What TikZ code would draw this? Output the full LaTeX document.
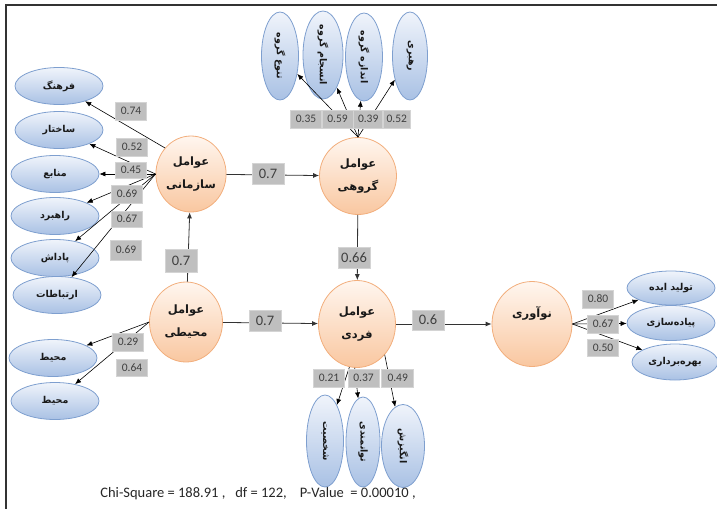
\documentclass[tikz,border=0pt]{standalone}
\usepackage{fontspec}
\setmainfont{Carlito}
\newfontfamily\fafont[Script=Arabic]{DejaVu Sans}
\TeXXeTstate=1
\usepackage{xcolor}
\usetikzlibrary{shapes.geometric,positioning,arrows.meta}
\definecolor{ringc}{HTML}{F2AE7C}
\definecolor{peachtop}{HTML}{FFF6EF}
\definecolor{peachbot}{HTML}{F9C7A0}
\definecolor{bluec}{HTML}{7E9FCF}
\definecolor{bluetop}{HTML}{F0F4FB}
\definecolor{bluebot}{HTML}{A9C1E4}
\definecolor{boxc}{HTML}{BFBFBF}
\definecolor{boxline}{HTML}{D4D4D4}
\newcommand\rl[1]{\beginR#1\endR}

\begin{document}
\begin{tikzpicture}[x=1pt,y=-1pt,
    factor/.style={ellipse,draw=ringc,line width=0.8pt,top color=peachtop,bottom color=peachbot,inner sep=0pt,align=center,text=black!90,font=\fafont\bfseries\fontsize{11.5}{23}\selectfont},
    indic/.style={ellipse,draw=bluec,line width=0.8pt,top color=bluetop,bottom color=bluebot,minimum width=88pt,minimum height=37pt,inner sep=0pt,text=black!90,font=\fafont\bfseries\fontsize{9.5}{11}\selectfont},
    vindic/.style={indic,minimum width=88pt,minimum height=37pt,rotate=-90},
    coef/.style={fill=boxc,draw=boxline,line width=0.6pt,minimum width=31pt,minimum height=18pt,inner sep=0pt,text=black!75,font=\fontsize{11.5}{13}\selectfont},
    pcoef/.style={coef,minimum width=32pt,minimum height=21pt,font=\fontsize{14.5}{16}\selectfont},
    load/.style={-{Latex[length=6pt,width=5pt]},line width=0.6pt,black},
    struct/.style={-{Latex[length=6pt,width=5pt]},line width=0.8pt,black!80}]
        %\draw [help lines] (0,0) grid (717,509);
        \useasboundingbox (0,0) rectangle (717,509);
        \draw[line width=2.5pt,black!80] (717,5) -- (6,5) -- (6,509);

        \node[factor,minimum width=69pt,minimum height=76pt] (org) at (191,174) {\rl{عوامل}\\\rl{سازمانی}};
        \node[factor,minimum width=77pt,minimum height=77pt] (group) at (358,176) {\rl{عوامل}\\\rl{گروهی}};
        \node[factor,minimum width=73pt,minimum height=80pt] (env) at (186,322) {\rl{عوامل}\\\rl{محیطی}};
        \node[factor,minimum width=77pt,minimum height=87pt] (indiv) at (357,324) {\rl{عوامل}\\\rl{فردی}};
        \node[factor,minimum width=80pt,minimum height=85pt] (innov) at (532,324) {\rl{نوآوری}\\\mbox{}};

        \node[indic] (cult) at (59,86) {\rl{فرهنگ}};
        \node[indic] (struc) at (59,130) {\rl{ساختار}};
        \node[indic] (resr) at (55,174) {\rl{منابع}};
        \node[indic] (strat) at (55,216) {\rl{راهبرد}};
        \node[indic] (rewd) at (55,258) {\rl{پاداش}};
        \node[indic] (comm) at (57,295) {\rl{ارتباطات}};
        \node[indic] (envA) at (53,358) {\rl{محیط}};
        \node[indic] (envB) at (55,401) {\rl{محیط}};

        \node[vindic] (divg) at (280,56) {\rl{تنوع گروه}};
        \node[vindic,minimum height=40pt] (cohs) at (323,55) {\rl{انسجام گروه}};
        \node[vindic] (gsize) at (364,57) {\rl{اندازه گروه}};
        \node[vindic,minimum height=35pt] (lead) at (410,56) {\rl{رهبری}};

        \node[vindic,minimum width=92pt] (pers) at (325,441) {\rl{شخصیت}};
        \node[vindic,minimum width=90pt,minimum height=34pt] (abil) at (363,442) {\rl{توانمندی}};
        \node[vindic,minimum width=83pt,minimum height=43pt] (motv) at (403,446) {\rl{انگیزش}};

        \node[indic,minimum height=34pt] (idea) at (671,288) {\rl{تولید ایده}};
        \node[indic,minimum height=35pt] (impl) at (671,323) {\rl{پیاده‌سازی}};
        \node[indic,minimum width=86pt,minimum height=36pt] (expl) at (675,362) {\rl{بهره‌برداری}};

        \draw[load] (org.135) -- (cult);
        \draw[load] (org.west) -- (struc);
        \draw[load] (org.west) -- (resr);
        \draw[load] (org.west) -- (strat);
        \draw[load] (org.west) -- (rewd);
        \draw[load] (org.west) -- (comm);
        \draw[load] (group.north) -- (divg);
        \draw[load] (group.north) -- (cohs);
        \draw[load] (group.north) -- (gsize);
        \draw[load] (group.north) -- (lead);
        \draw[load] (env.west) -- (envA);
        \draw[load] (env.west) -- (envB);
        \draw[load] (indiv.-100) -- (pers);
        \draw[load] (indiv.-93) -- (abil);
        \draw[load] (indiv.-48) -- (motv);
        \draw[load] (innov.east) -- (idea);
        \draw[load] (innov.east) -- (impl);
        \draw[load] (innov.east) -- (expl);

        \draw[struct] (org) -- (group);
        \draw[struct] (group) -- (indiv);
        \draw[struct] (env) -- (org);
        \draw[struct] (env) -- (indiv);
        \draw[struct] (indiv) -- (innov);

        \node[coef] (c1) at (131,111) {0.74};
        \node[coef] (c2) at (132,147) {0.52};
        \node[coef,minimum height=16pt] (c3) at (131,170) {0.45};
        \node[coef] (c4) at (127,194) {0.69};
        \node[coef,minimum height=16pt] (c5) at (127,219) {0.67};
        \node[coef,minimum height=20pt] (c6) at (126,250) {0.69};

        \node[coef] (c7) at (306,119) {0.35};
        \node[coef,right=0pt of c7] (c8) {0.59};
        \node[coef,minimum width=29pt,right=0pt of c8] (c9) {0.39};
        \node[coef,minimum width=27pt,right=0pt of c9] (c10) {0.52};

        \node[coef] (c11) at (128,342) {0.29};
        \node[coef,minimum height=17pt] (c12) at (132,368) {0.64};

        \node[coef] (c13) at (329,378) {0.21};
        \node[coef,right=3pt of c13] (c14) {0.37};
        \node[coef,minimum width=32pt,right=2pt of c14] (c15) {0.49};

        \node[coef] (c16) at (598,299) {0.80};
        \node[coef] (c17) at (603,324) {0.67};
        \node[coef,minimum height=17pt] (c18) at (603,348) {0.50};

        \node[pcoef] (p1) at (268,174) {0.7};
        \node[pcoef] (p2) at (354,258) {0.66};
        \node[pcoef,minimum height=23pt] (p3) at (181,261) {0.7};
        \node[pcoef] (p4) at (265,321) {0.7};
        \node[pcoef,minimum height=20pt] (p5) at (428,320) {0.6};

        \node[text=black!85,font=\fontsize{14.5}{17}\selectfont] (fitline) at (258,494) {Chi-Square = 188.91 ,\ \ \ df = 122,\ \ \ \ P-Value\ \ = 0.00010 ,};
    \end{tikzpicture}
\end{document}
